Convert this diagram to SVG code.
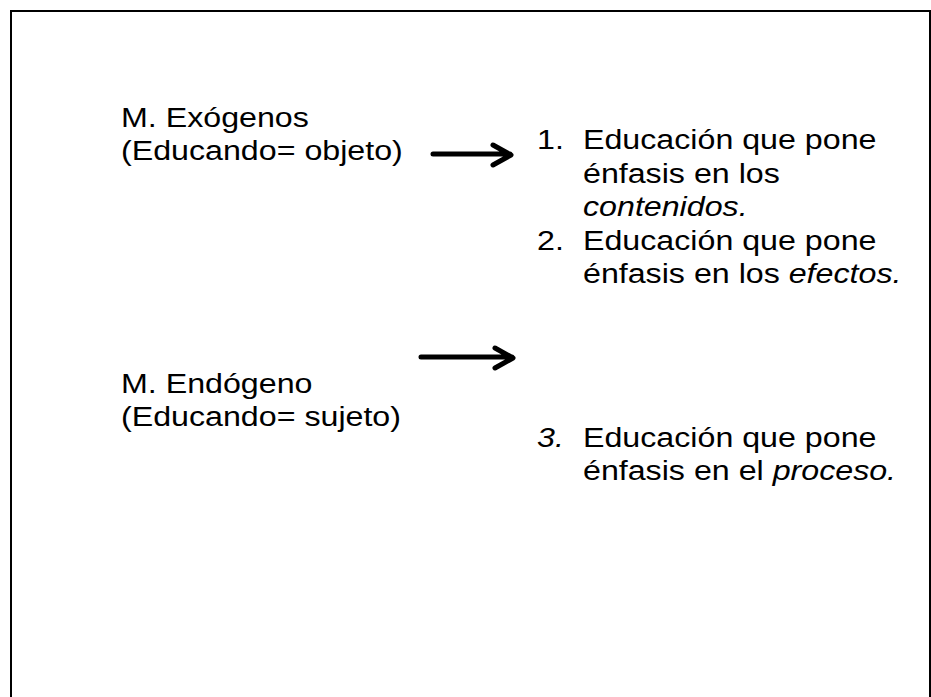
<svg xmlns="http://www.w3.org/2000/svg" width="931" height="697" viewBox="0 0 931 697">
<style>
text{font-family:"Liberation Sans",Arial,sans-serif;font-size:28px;fill:#000}
.i{font-style:italic}
.arr{stroke:#000;stroke-width:5;fill:none;stroke-linecap:round;stroke-linejoin:round}
</style>
<rect x="0" y="0" width="931" height="697" fill="#fff"/>
<path d="M11,697 V11 H930 V697" fill="none" stroke="#000" stroke-width="2"/>
<g id="exogenos" transform="translate(121,0) scale(1.15,1)"><text x="0" y="127">M. Exógenos</text><text x="0" y="160">(Educando= objeto)</text></g>
<g id="endogeno" transform="translate(121,0) scale(1.15,1)"><text x="0" y="393">M. Endógeno</text><text x="0" y="426">(Educando= sujeto)</text></g>
<g id="item1" transform="translate(537,0) scale(1.15,1)"><text x="0" y="149">1.</text><text x="40" y="149">Educación que pone</text><text x="40" y="183">énfasis en los</text><text x="40" y="216" class="i">contenidos.</text></g>
<g id="item2" transform="translate(537,0) scale(1.15,1)"><text x="0" y="250">2.</text><text x="40" y="250">Educación que pone</text><text x="40" y="283">énfasis en los <tspan class="i">efectos.</tspan></text></g>
<g id="item3" transform="translate(537,0) scale(1.15,1)"><text x="0" y="447" class="i">3.</text><text x="40" y="447">Educación que pone</text><text x="40" y="480">énfasis en el <tspan class="i">proceso.</tspan></text></g>
<g id="connectors">
<path class="arr" d="M433,154 H510 M493,145 L511,155 L493,165"/>
<path class="arr" d="M421,357 H512 M495,348 L513,358 L495,368"/>
</g>
</svg>
